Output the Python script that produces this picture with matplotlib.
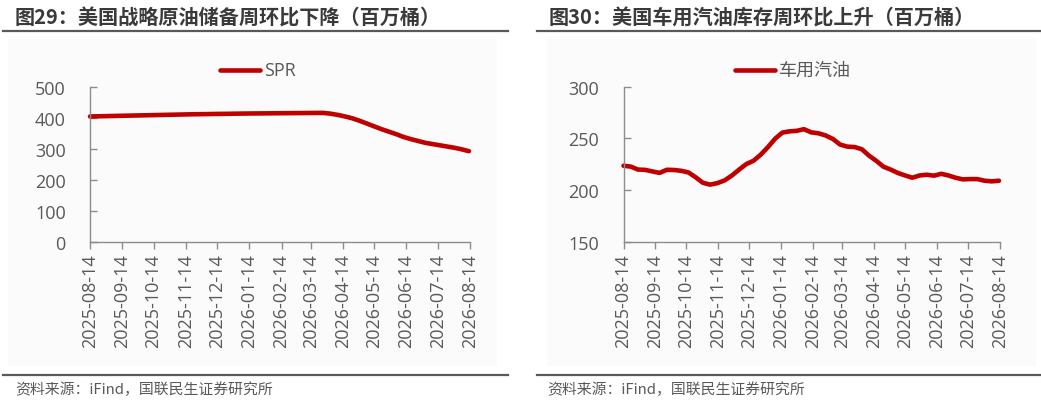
import matplotlib
matplotlib.use("Agg")
import matplotlib.pyplot as plt
import numpy as np
import pandas as pd
from matplotlib.patches import Rectangle
from matplotlib.lines import Line2D

plt.rcParams['font.family'] = ['Noto Sans CJK SC', 'DejaVu Sans']

# ---------------- data ----------------
weeks = pd.date_range("2025-08-14", periods=53, freq="7D")

spr = [404, 404.5, 405, 405.5, 406, 406.5, 407, 407.5, 408, 408.5,
       409, 409.5, 410, 410.5, 411, 411.3, 411.6, 412, 412.3, 412.6,
       413, 413.3, 413.6, 413.8, 414, 414.2, 414.4, 414.6, 414.8, 415,
       415.2, 415.4, 415.5, 413, 409, 404, 398, 390, 381, 372,
       363, 355, 347, 338, 331, 325, 319, 315, 311, 307,
       303, 298, 292]

gasoline = [223.5, 222.7, 219.8, 219.5, 218.0, 216.6, 219.6, 219.4, 218.6, 217.0,
            212.3, 207.0, 205.2, 206.7, 209.3, 214.0, 219.7, 225.1, 228.3, 234.2,
            241.5, 249.7, 255.6, 256.8, 257.3, 258.9, 255.8, 254.9, 252.8, 249.4,
            244.0, 242.0, 241.6, 239.5, 233.3, 228.3, 222.6, 219.8, 216.5, 214.1,
            211.9, 214.1, 214.8, 213.9, 215.7, 214.1, 211.9, 210.3, 210.6, 210.6,
            209.0, 208.4, 209.0]

tick_labels = ["2025-08-14", "2025-09-14", "2025-10-14", "2025-11-14", "2025-12-14",
               "2026-01-14", "2026-02-14", "2026-03-14", "2026-04-14", "2026-05-14",
               "2026-06-14", "2026-07-14", "2026-08-14"]
tick_dates = [pd.Timestamp(s) for s in tick_labels]

titles = ["图29：美国战略原油储备周环比下降（百万桶）",
          "图30：美国车用汽油库存周环比上升（百万桶）"]
legend_names = ["SPR", "车用汽油"]
source = "资料来源：iFind，国联民生证券研究所"

spr_yticks = [0, 100, 200, 300, 400, 500]
gas_yticks = [150, 200, 250, 300]

# ---------------- style ----------------
W, H = 1041, 402
fig = plt.figure(figsize=(W / 100, H / 100), dpi=100)
fig.patch.set_facecolor("white")

red = "#C00000"
grey_txt = "#595959"
title_col = "#3a3a3a"
spine_col = "#8C8C8C"
num_font = ['Open Sans', 'Noto Sans CJK SC', 'DejaVu Sans']


def px(x, y):
    return x / W, 1 - y / H


panels = [
    dict(x0=3, x1=508, bg0=8, bg1=497, ax_l=90, ax_r=470, data=spr,
         yticks=spr_yticks, title=titles[0], name=legend_names[0], tx=15,
         leg_x=220, src_x=15),
    dict(x0=537, x1=1040, bg0=547, bg1=1036, ax_l=623.5, ax_r=1000, data=gasoline,
         yticks=gas_yticks, title=titles[1], name=legend_names[1], tx=549,
         leg_x=735, src_x=547),
]

for p in panels:
    # faint panel background
    bx, by = px(p["bg0"], 367)
    bw = (p["bg1"] - p["bg0"]) / W
    bh = (367 - 38) / H
    fig.add_artist(Rectangle((bx, by), bw, bh, transform=fig.transFigure,
                             facecolor="#fbfbfb", edgecolor="none", zorder=-10))
    # title
    x, y = px(p["tx"], 18)
    fig.text(x, y, p["title"], fontsize=14.5, fontweight="bold", color=title_col,
             ha="left", va="center")
    # title underline
    xa, ya = px(p["x0"], 31.5)
    xb, _ = px(p["x1"], 31.5)
    fig.add_artist(Line2D([xa, xb], [ya, ya], transform=fig.transFigure,
                          color="#595959", linewidth=1.6))
    # footer line
    xa, ya = px(p["x0"], 375.5)
    xb, _ = px(p["x1"], 375.5)
    fig.add_artist(Line2D([xa, xb], [ya, ya], transform=fig.transFigure,
                          color="#595959", linewidth=1.6))
    # footer text
    x, y = px(p["src_x"], 390)
    fig.text(x, y, source, fontsize=10.7, color=grey_txt, ha="left", va="center")

    # axes
    left = p["ax_l"] / W
    width = (p["ax_r"] - p["ax_l"]) / W
    bottom = 1 - 242.7 / H
    height = (242.7 - 87.7) / H
    ax = fig.add_axes([left, bottom, width, height], zorder=5)
    ax.set_facecolor("none")
    ax.plot(weeks, p["data"], color=red, linewidth=3.3, solid_capstyle="round",
            solid_joinstyle="round", clip_on=False, label=p["name"])
    ax.set_xlim(pd.Timestamp("2025-08-14"), pd.Timestamp("2026-08-14"))
    ax.set_ylim(p["yticks"][0], p["yticks"][-1])
    ax.set_yticks(p["yticks"])
    ax.set_yticklabels([str(v) for v in p["yticks"]], family=num_font,
                       fontsize=13, color=grey_txt)
    ax.set_xticks(tick_dates)
    ax.set_xticklabels(tick_labels, rotation=90, family=num_font, fontsize=13,
                       color=grey_txt)
    ax.tick_params(axis="y", direction="in", length=5, width=1, color=spine_col,
                   pad=17.5)
    ax.tick_params(axis="x", direction="out", length=5, width=1, color=spine_col,
                   pad=3)
    for s in ["top", "right"]:
        ax.spines[s].set_visible(False)
    for s in ["left", "bottom"]:
        ax.spines[s].set_color(spine_col)
        ax.spines[s].set_linewidth(1)

    # legend
    lx0, ly = px(p["leg_x"], 71)
    lx1, _ = px(p["leg_x"] + 40, 71)
    fig.add_artist(Line2D([lx0, lx1], [ly, ly], transform=fig.transFigure,
                          color=red, linewidth=3.3, solid_capstyle="round"))
    tx, _ = px(p["leg_x"] + 44, 71)
    fig.text(tx, ly, p["name"], family=num_font, fontsize=13, color=grey_txt,
             ha="left", va="center")

fig.savefig("out.png", dpi=100, facecolor="white")
